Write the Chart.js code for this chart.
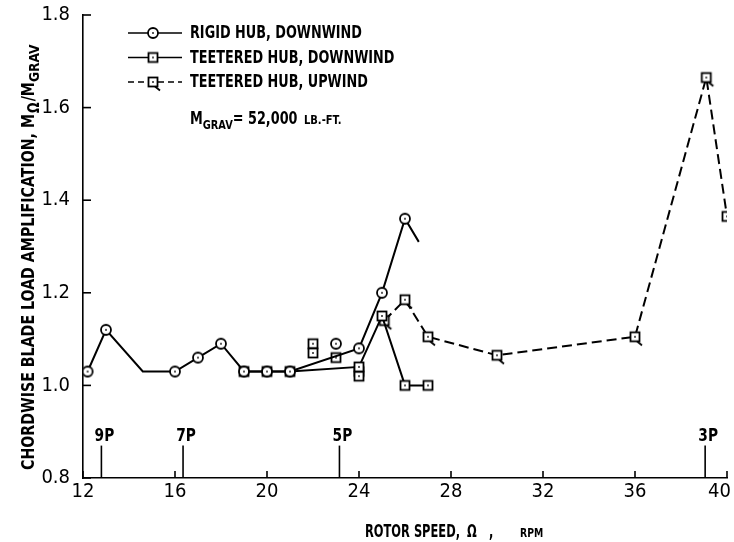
<!DOCTYPE html>
<html>
<head>
<meta charset="utf-8">
<script src="https://cdn.jsdelivr.net/npm/chart.js@4.4.1/dist/chart.umd.min.js"></script>
<style>
  html, body { margin: 0; padding: 0; background: #fff; }
  #wrap { width: 734px; height: 542px; }
</style>
</head>
<body>
<div id="wrap"><canvas id="bladeChart" width="734" height="542"></canvas></div>
<script>
// rotor speed (rpm) vs chordwise blade load amplification M_omega / M_grav
const rigidRpm  = [12.2, 13.0, 14.6, 16.0, 17.0, 18.0, 19.0, 20.0, 21.0, 24.0, 25.0, 26.0, 26.6];
const rigidAmp  = [1.03, 1.12, 1.03, 1.03, 1.06, 1.09, 1.03, 1.03, 1.03, 1.08, 1.20, 1.36, 1.31];
const rigidTest = [true, true, false, true, true, true, true, true, true, true, true, true, false]; // false = faired line, no test point

const rigidExtraRpm = [23.0];
const rigidExtraAmp = [1.09];

const teeterDownRpm = [19.0, 20.0, 21.0, 24.0, 25.0, 26.0, 27.0];
const teeterDownAmp = [1.03, 1.03, 1.03, 1.04, 1.15, 1.00, 1.00];
const teeterExtraRpm = [22.0, 22.0, 23.0, 24.0, 24.0];
const teeterExtraAmp = [1.09, 1.07, 1.06, 1.03, 1.02];

const teeterUpRpm = [25.1, 26.0, 27.0, 30.0, 36.0, 39.1, 40.0];
const teeterUpAmp = [1.14, 1.185, 1.105, 1.065, 1.105, 1.665, 1.365];

const harmonicRpm = [12.8, 16.35, 23.15, 39.05];
const harmonicLabels = ["9P", "7P", "5P", "3P"];
const harmonicTop = 0.87;

const xTicks = [12, 16, 20, 24, 28, 32, 36, 40];
const yTicks = [0.8, 1.0, 1.2, 1.4, 1.6, 1.8];

const FONT = "'Liberation Sans Narrow', 'DejaVu Sans Condensed', 'DejaVu Sans', sans-serif";
const WEIGHT = "bold ";

function pts(xs, ys) {
    return xs.map((x, i) => ({ x: x, y: ys[i] }));
}

// small test-point symbols, like the hand plotted ones
function marker(kind) {
    const c = document.createElement("canvas");
    const s = 20;
    c.width = s; c.height = s;
    const g = c.getContext("2d");
    const m = s / 2;
    g.strokeStyle = "#000";
    g.fillStyle = "#fff";
    g.lineWidth = 1.8;
    if (kind === "circle") {
        g.beginPath();
        g.arc(m, m, 5, 0, 2 * Math.PI);
        g.fill();
        g.stroke();
    } else {
        g.fillRect(m - 4.5, m - 4.5, 9, 9);
        g.strokeRect(m - 4.5, m - 4.5, 9, 9);
    }
    if (kind === "tail") {
        g.beginPath();
        g.moveTo(m + 2, m + 4.5);
        g.lineTo(m + 7, m + 8.5);
        g.stroke();
    }
    g.fillStyle = "#000";
    g.fillRect(m - 0.8, m - 0.8, 1.6, 1.6);
    return c;
}

const circleMark = marker("circle");
const squareMark = marker("square");
const tailMark = marker("tail");

// squeeze text to a target width (the report font is narrow)
function drawRun(ctx, text, x, y, size, sx, weight) {
    ctx.save();
    ctx.font = (weight === undefined ? WEIGHT : weight) + size + "px " + FONT;
    ctx.translate(x, y);
    ctx.scale(sx, 1);
    ctx.fillText(text, 0, 0);
    const w = ctx.measureText(text).width * sx;
    ctx.restore();
    return w;
}

function textWidth(ctx, text, size, weight) {
    ctx.save();
    ctx.font = (weight === undefined ? WEIGHT : weight) + size + "px " + FONT;
    const w = ctx.measureText(text).width;
    ctx.restore();
    return w;
}

const decorations = {
    id: "decorations",
    afterDraw(chart) {
        const ctx = chart.ctx;
        const xs = chart.scales.x;
        const ys = chart.scales.y;
        const bottom = ys.getPixelForValue(0.8);
        const left = xs.getPixelForValue(12);
        ctx.save();
        ctx.strokeStyle = "#000";
        ctx.fillStyle = "#000";
        ctx.lineWidth = 1.6;

        // inward tick marks and x tick labels
        ctx.textBaseline = "top";
        xTicks.forEach(v => {
            const px = xs.getPixelForValue(v);
            ctx.beginPath();
            ctx.moveTo(px, bottom);
            ctx.lineTo(px, bottom - 7);
            ctx.stroke();
            const label = String(v);
            const w = textWidth(ctx, label, 20, "");
            const lx = Math.min(px - w / 2, chart.width - 3 - w);
            drawRun(ctx, label, lx, bottom + 4, 20, 1, "");
        });
        yTicks.forEach(v => {
            const py = ys.getPixelForValue(v);
            ctx.beginPath();
            ctx.moveTo(left, py);
            ctx.lineTo(left + 8, py);
            ctx.stroke();
        });

        // rotor harmonic markers
        const topPx = ys.getPixelForValue(harmonicTop);
        ctx.textBaseline = "alphabetic";
        harmonicRpm.forEach((r, i) => {
            const px = xs.getPixelForValue(r);
            ctx.beginPath();
            ctx.moveTo(px, bottom);
            ctx.lineTo(px, topPx);
            ctx.stroke();
            const sx = 0.85;
            const w = textWidth(ctx, harmonicLabels[i], 18) * sx;
            drawRun(ctx, harmonicLabels[i], px - w / 2 + 3, topPx - 5, 18, sx);
        });

        // legend
        const rows = [
            { ds: chart.data.datasets[0], mark: circleMark, dash: [] },
            { ds: chart.data.datasets[2], mark: squareMark, dash: [] },
            { ds: chart.data.datasets[4], mark: tailMark, dash: [6, 4] }
        ];
        const lsx = 172 / textWidth(ctx, rows[0].ds.label, 17);
        rows.forEach((r, i) => {
            const y = 33 + i * 24.5;
            ctx.save();
            ctx.setLineDash(r.dash);
            ctx.beginPath();
            ctx.moveTo(128, y);
            ctx.lineTo(182, y);
            ctx.stroke();
            ctx.restore();
            ctx.drawImage(r.mark, 153 - r.mark.width / 2, y - r.mark.height / 2);
            ctx.textBaseline = "middle";
            drawRun(ctx, r.ds.label, 190, y + 1, 17, lsx);
        });

        // M_GRAV note
        ctx.textBaseline = "alphabetic";
        let nx = 190;
        const ny = 124;
        nx += drawRun(ctx, "M", nx, ny, 17, lsx);
        nx += drawRun(ctx, "GRAV", nx, ny + 5, 13, lsx);
        nx += drawRun(ctx, "= 52,000 ", nx, ny, 17, lsx);
        drawRun(ctx, "LB.-FT.", nx + 2, ny, 12, lsx * 1.1);

        // x axis title
        const ty = 537;
        const xsx = 95 / textWidth(ctx, "ROTOR SPEED,", 17);
        drawRun(ctx, "ROTOR SPEED,", 365, ty, 17, xsx);
        drawRun(ctx, "\u03A9", 467, ty, 17, xsx);
        drawRun(ctx, ",", 489, ty, 17, xsx);
        drawRun(ctx, "RPM", 520, ty, 12, xsx * 1.15);

        // y axis title, rotated
        ctx.save();
        ctx.translate(34, 470);
        ctx.rotate(-Math.PI / 2);
        const main = "CHORDWISE BLADE LOAD AMPLIFICATION, M";
        const ysx = 337 / textWidth(ctx, "CHORDWISE BLADE LOAD AMPLIFICATION,", 17);
        let ax = 0;
        ax += drawRun(ctx, main, ax, 0, 17, ysx);
        ax += drawRun(ctx, "\u03A9", ax + 1, 5, 15, ysx) + 2;
        ax += drawRun(ctx, "/M", ax, 0, 17, ysx);
        drawRun(ctx, "GRAV", ax, 5, 14, ysx * 1.05);
        ctx.restore();

        ctx.restore();
    }
};

const ctx = document.getElementById("bladeChart").getContext("2d");

new Chart(ctx, {
    type: "line",
    data: {
        datasets: [
            {
                label: "RIGID HUB, DOWNWIND",
                data: pts(rigidRpm, rigidAmp),
                borderColor: "#000",
                borderWidth: 2,
                pointStyle: circleMark,
                pointRadius: rigidTest.map(t => (t ? 5 : 0)),
                tension: 0,
                order: 1
            },
            {
                label: "rigid, other",
                data: pts(rigidExtraRpm, rigidExtraAmp),
                showLine: false,
                pointStyle: circleMark,
                pointRadius: 5,
                order: 1
            },
            {
                label: "TEETERED HUB, DOWNWIND",
                data: pts(teeterDownRpm, teeterDownAmp),
                borderColor: "#000",
                borderWidth: 2,
                pointStyle: squareMark,
                pointRadius: 5,
                tension: 0,
                order: 2
            },
            {
                label: "teetered, other",
                data: pts(teeterExtraRpm, teeterExtraAmp),
                showLine: false,
                pointStyle: squareMark,
                pointRadius: 5,
                order: 2
            },
            {
                label: "TEETERED HUB, UPWIND",
                data: pts(teeterUpRpm, teeterUpAmp),
                borderColor: "#000",
                borderWidth: 2,
                borderDash: [10, 5],
                pointStyle: tailMark,
                pointRadius: 5,
                tension: 0,
                order: 3
            }
        ]
    },
    options: {
        responsive: false,
        animation: false,
        layout: { padding: { top: 15, right: 6, left: 0, bottom: 0 } },
        plugins: {
            legend: { display: false },
            tooltip: { enabled: false }
        },
        scales: {
            x: {
                type: "linear",
                min: 12,
                max: 40,
                afterBuildTicks: s => { s.ticks = xTicks.map(v => ({ value: v })); },
                afterFit: s => { s.height = 64; s.paddingLeft = 0; s.paddingRight = 0; },
                grid: { display: false },
                border: { display: true, color: "#000", width: 1.6 },
                ticks: { display: false }
            },
            y: {
                type: "linear",
                min: 0.8,
                max: 1.8,
                afterBuildTicks: s => { s.ticks = yTicks.map(v => ({ value: v })); },
                afterFit: s => { s.width = 83; s.paddingTop = 0; s.paddingBottom = 0; },
                grid: { display: false },
                border: { display: true, color: "#000", width: 1.6 },
                ticks: {
                    color: "#000",
                    padding: 5,
                    font: { family: FONT, size: 20 },
                    callback: v => v.toFixed(1)
                }
            }
        }
    },
    plugins: [decorations]
});
</script>
</body>
</html>
